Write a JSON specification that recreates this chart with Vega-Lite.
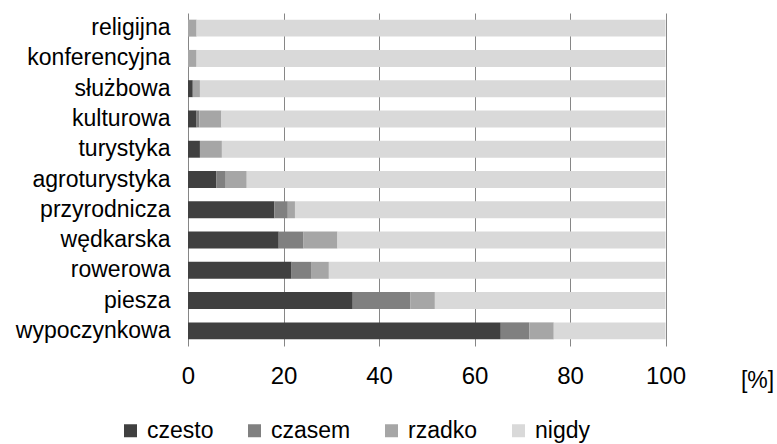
{
  "$schema": "https://vega.github.io/schema/vega-lite/v6.json",
  "width": 477.5,
  "height": 333,
  "autosize": {"type": "none"},
  "padding": {"left": 188, "top": 13, "right": 111.5, "bottom": 98},
  "background": "white",
  "config": {
    "view": {"stroke": null},
    "font": "Liberation Sans",
    "axis": {"labelFont": "Liberation Sans", "titleFont": "Liberation Sans"},
    "legend": {"labelFont": "Liberation Sans"}
  },
  "data": {
    "values": [
      {"k": "religijna", "s": "czesto", "o": 1, "v": 0},
      {"k": "religijna", "s": "czasem", "o": 2, "v": 0},
      {"k": "religijna", "s": "rzadko", "o": 3, "v": 1.8},
      {"k": "religijna", "s": "nigdy", "o": 4, "v": 98.2},
      {"k": "konferencyjna", "s": "czesto", "o": 1, "v": 0},
      {"k": "konferencyjna", "s": "czasem", "o": 2, "v": 0},
      {"k": "konferencyjna", "s": "rzadko", "o": 3, "v": 1.8},
      {"k": "konferencyjna", "s": "nigdy", "o": 4, "v": 98.2},
      {"k": "służbowa", "s": "czesto", "o": 1, "v": 1.0},
      {"k": "służbowa", "s": "czasem", "o": 2, "v": 0},
      {"k": "służbowa", "s": "rzadko", "o": 3, "v": 1.5},
      {"k": "służbowa", "s": "nigdy", "o": 4, "v": 97.5},
      {"k": "kulturowa", "s": "czesto", "o": 1, "v": 1.8},
      {"k": "kulturowa", "s": "czasem", "o": 2, "v": 0.6},
      {"k": "kulturowa", "s": "rzadko", "o": 3, "v": 4.6},
      {"k": "kulturowa", "s": "nigdy", "o": 4, "v": 93.0},
      {"k": "turystyka", "s": "czesto", "o": 1, "v": 2.5},
      {"k": "turystyka", "s": "czasem", "o": 2, "v": 0},
      {"k": "turystyka", "s": "rzadko", "o": 3, "v": 4.6},
      {"k": "turystyka", "s": "nigdy", "o": 4, "v": 92.9},
      {"k": "agroturystyka", "s": "czesto", "o": 1, "v": 5.9},
      {"k": "agroturystyka", "s": "czasem", "o": 2, "v": 2.0},
      {"k": "agroturystyka", "s": "rzadko", "o": 3, "v": 4.4},
      {"k": "agroturystyka", "s": "nigdy", "o": 4, "v": 87.7},
      {"k": "przyrodnicza", "s": "czesto", "o": 1, "v": 18.1},
      {"k": "przyrodnicza", "s": "czasem", "o": 2, "v": 2.8},
      {"k": "przyrodnicza", "s": "rzadko", "o": 3, "v": 1.5},
      {"k": "przyrodnicza", "s": "nigdy", "o": 4, "v": 77.6},
      {"k": "wędkarska", "s": "czesto", "o": 1, "v": 19.0},
      {"k": "wędkarska", "s": "czasem", "o": 2, "v": 5.2},
      {"k": "wędkarska", "s": "rzadko", "o": 3, "v": 7.1},
      {"k": "wędkarska", "s": "nigdy", "o": 4, "v": 68.7},
      {"k": "rowerowa", "s": "czesto", "o": 1, "v": 21.7},
      {"k": "rowerowa", "s": "czasem", "o": 2, "v": 4.2},
      {"k": "rowerowa", "s": "rzadko", "o": 3, "v": 3.6},
      {"k": "rowerowa", "s": "nigdy", "o": 4, "v": 70.5},
      {"k": "piesza", "s": "czesto", "o": 1, "v": 34.5},
      {"k": "piesza", "s": "czasem", "o": 2, "v": 12.1},
      {"k": "piesza", "s": "rzadko", "o": 3, "v": 5.1},
      {"k": "piesza", "s": "nigdy", "o": 4, "v": 48.3},
      {"k": "wypoczynkowa", "s": "czesto", "o": 1, "v": 65.5},
      {"k": "wypoczynkowa", "s": "czasem", "o": 2, "v": 6.0},
      {"k": "wypoczynkowa", "s": "rzadko", "o": 3, "v": 5.1},
      {"k": "wypoczynkowa", "s": "nigdy", "o": 4, "v": 23.4}
    ]
  },
  "mark": {"type": "bar"},
  "encoding": {
    "y": {
      "field": "k",
      "type": "nominal",
      "sort": null,
      "scale": {"paddingInner": 0.44, "paddingOuter": 0.22},
      "axis": {
        "title": null,
        "domain": false,
        "ticks": false,
        "labelFontSize": 23,
        "labelColor": "#000000",
        "labelPadding": 18,
        "labelLimit": 300
      }
    },
    "x": {
      "field": "v",
      "type": "quantitative",
      "stack": "zero",
      "scale": {"domain": [0, 100], "nice": false},
      "axis": {
        "values": [0, 20, 40, 60, 80, 100],
        "title": "[%]",
        "titleFontSize": 23,
        "titleFontWeight": "normal",
        "titleColor": "#000000",
        "titleX": 569,
        "titleY": 41,
        "titleBaseline": "alphabetic",
        "titleAlign": "center",
        "domain": false,
        "ticks": false,
        "grid": true,
        "gridColor": "#868686",
        "gridWidth": 1,
        "labelFontSize": 24,
        "labelColor": "#000000",
        "labelPadding": 18,
        "labelFlush": false
      }
    },
    "color": {
      "field": "s",
      "type": "nominal",
      "sort": ["czesto", "czasem", "rzadko", "nigdy"],
      "scale": {
        "domain": ["czesto", "czasem", "rzadko", "nigdy"],
        "range": ["#404040", "#808080", "#a6a6a6", "#d9d9d9"]
      },
      "legend": {
        "title": null,
        "orient": "none",
        "direction": "horizontal",
        "legendX": -69,
        "legendY": 406,
        "padding": 0,
        "symbolType": "square",
        "symbolSize": 169,
        "symbolStrokeWidth": 0,
        "symbolOpacity": 1,
        "labelFontSize": 23,
        "labelColor": "#000000",
        "labelOffset": 5,
        "columnPadding": 29
      }
    },
    "order": {"field": "o", "type": "quantitative"}
  }
}
